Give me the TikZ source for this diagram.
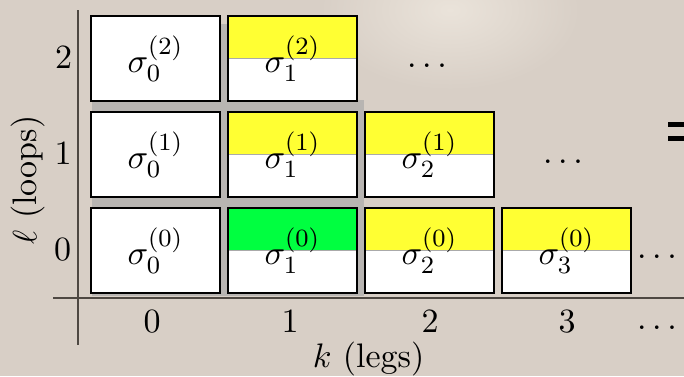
\documentclass[tikz,border=0pt]{standalone}
\definecolor{bgbeige}{RGB}{216,207,198}
\definecolor{bglight}{RGB}{234,227,218}
\definecolor{shadowgray}{RGB}{184,181,178}
\definecolor{axisgray}{RGB}{78,72,66}
\definecolor{cellyellow}{RGB}{255,255,51}
\definecolor{cellgreen}{RGB}{0,255,64}
\definecolor{splitgray}{RGB}{170,170,170}
\newcommand{\bigtxt}[1]{\scalebox{3.105}{#1}}
\begin{document}
\begin{tikzpicture}[x=1pt,y=-1pt,font=\fontsize{10.95}{13.6}\selectfont,
  cell/.style={draw=black, line width=2pt, fill=white, minimum width=129pt,
    minimum height=85pt, inner sep=0pt},
  halfcell/.style={cell, path picture={
    \fill[#1] (path picture bounding box.north west) rectangle (path picture bounding box.east);
    \draw[splitgray, line width=0.8pt] (path picture bounding box.west) -- (path picture bounding box.east);}},
  axisline/.style={draw=axisgray, line width=1.6pt},
  lbl/.style={inner sep=0pt, anchor=base},
  dotsnode/.style={inner sep=0pt}]
\useasboundingbox (0,0) rectangle (684,376);
\fill[bgbeige] (0,0) rectangle (684,376);
\shade[inner color=bglight, outer color=bgbeige] (450,10) ellipse (130 and 80);
\fill[shadowgray] (92,24) rectangle (228,296);
\fill[shadowgray] (220,100) rectangle (364,296);
% axes
\coordinate (vtop) at (78,10);
\coordinate (vbot) at (78,345);
\coordinate (hleft) at (53,298);
\coordinate (hright) at (684,298);
\draw[axisline] (vtop) -- (vbot);
\draw[axisline] (hleft) -- (hright);
% cells row 2
\node[cell] (c02) at (155.5,58.5) {\bigtxt{$\sigma_0^{(2)}$}};
\node[halfcell=cellyellow] (c12) at (292.5,58.5) {\bigtxt{$\sigma_1^{(2)}$}};
% row 1
\node[cell] (c01) at (155.5,154.5) {\bigtxt{$\sigma_0^{(1)}$}};
\node[halfcell=cellyellow] (c11) at (292.5,154.5) {\bigtxt{$\sigma_1^{(1)}$}};
\node[halfcell=cellyellow] (c21) at (429.5,154.5) {\bigtxt{$\sigma_2^{(1)}$}};
% row 0
\node[cell] (c00) at (155.5,250.5) {\bigtxt{$\sigma_0^{(0)}$}};
\node[halfcell=cellgreen] (c10) at (292.5,250.5) {\bigtxt{$\sigma_1^{(0)}$}};
\node[halfcell=cellyellow] (c20) at (429.5,250.5) {\bigtxt{$\sigma_2^{(0)}$}};
\node[halfcell=cellyellow] (c30) at (566.5,250.5) {\bigtxt{$\sigma_3^{(0)}$}};
% dots
\node[dotsnode] (d2) at (427,66) {\bigtxt{$\dots$}};
\node[dotsnode] (d1) at (563,162) {\bigtxt{$\dots$}};
\node[dotsnode] (d0) at (657,257) {\bigtxt{$\dots$}};
\node[dotsnode] (dk) at (657,328) {\bigtxt{$\dots$}};
% row labels
\node[lbl] (r2) at (63.5,68) {\bigtxt{2}};
\node[lbl] (r1) at (63,164) {\bigtxt{1}};
\node[lbl] (r0) at (62.5,260) {\bigtxt{0}};
% column labels
\node[lbl] (k0) at (152,332) {\bigtxt{0}};
\node[lbl] (k1) at (290,332) {\bigtxt{1}};
\node[lbl] (k2) at (430,332) {\bigtxt{2}};
\node[lbl] (k3) at (567,332) {\bigtxt{3}};
% axis titles
\node[lbl] (ktitle) at (368.5,367) {\bigtxt{$k$ (legs)}};
\node[inner sep=0pt, rotate=90] (ltitle) at (28,180) {\bigtxt{$\ell$ (loops)}};
% clipped equals sign at right edge
\fill[black] (668,122) rectangle (684,127);
\fill[black] (668,136) rectangle (684,141);
\end{tikzpicture}
\end{document}
